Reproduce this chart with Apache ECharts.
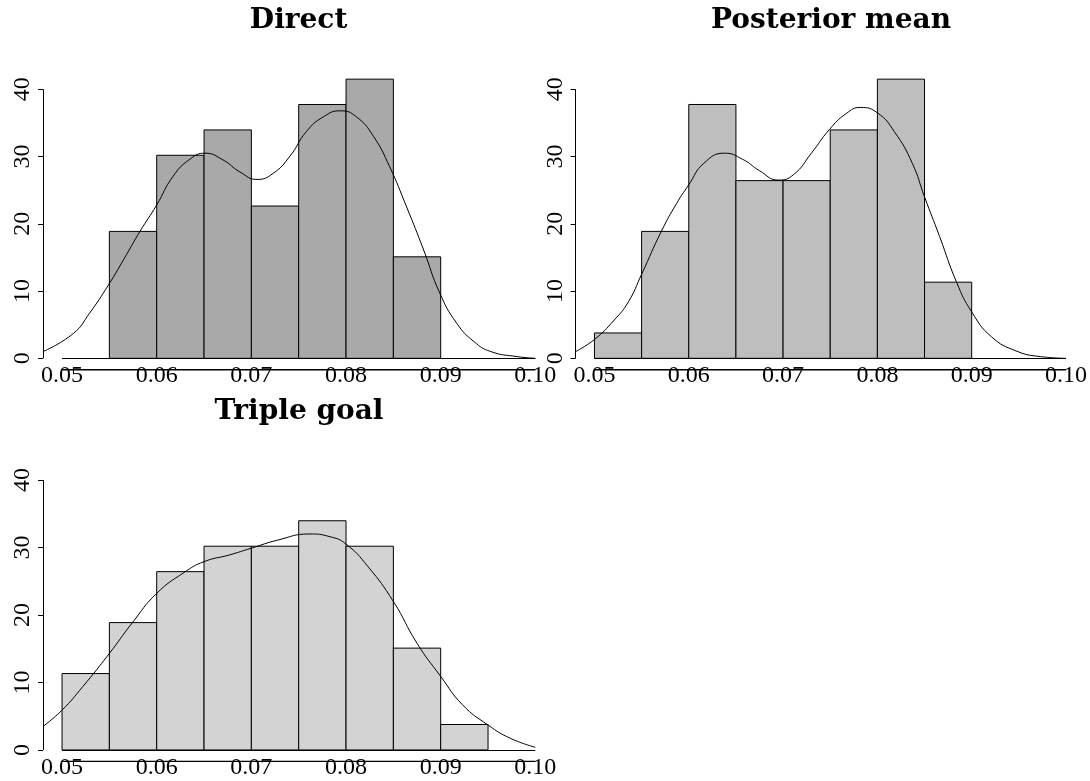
<!DOCTYPE html>
<html>
<head>
<meta charset="utf-8">
<script src="https://cdn.jsdelivr.net/npm/echarts@6.0.0/dist/echarts.min.js"></script>
<style>
html,body{margin:0;padding:0;background:#fff;}
#chart{width:1090px;height:781px;}
</style>
</head>
<body>
<div id="chart"></div>
<script>
// ---- data ----
const panelTitles = ['Direct', 'Posterior mean', 'Triple goal'];
const xTickLabels = [0.05, 0.06, 0.07, 0.08, 0.09, 0.10];
const yTickLabels = [0, 10, 20, 30, 40];
const xRange = [0.048, 0.102];   // plot region (R style 4% extension)
const yRange = [-1.74, 40];
const xAxisLineY = -1.7;         // level of the lower x axis line

const directBreaks = [0.055, 0.060, 0.065, 0.070, 0.075, 0.080, 0.085, 0.090];
const directDensity = [18.87, 30.19, 33.96, 22.64, 37.74, 41.51, 15.09];

const posteriorBreaks = [0.050, 0.055, 0.060, 0.065, 0.070, 0.075, 0.080, 0.085, 0.090];
const posteriorDensity = [3.77, 18.87, 37.74, 26.42, 26.42, 33.96, 41.51, 11.32];

const tripleBreaks = [0.050, 0.055, 0.060, 0.065, 0.070, 0.075, 0.080, 0.085, 0.090, 0.095];
const tripleDensity = [11.32, 18.87, 26.42, 30.19, 30.19, 33.96, 30.19, 15.09, 3.77];

const directCurveX = [0.048, 0.0512, 0.0529, 0.0549, 0.0568, 0.0582, 0.0600, 0.0617, 0.0635, 0.0651, 0.0670, 0.0688, 0.0706, 0.0723, 0.0741, 0.0758, 0.0776, 0.0794, 0.0811, 0.0829, 0.0846, 0.0864, 0.0882, 0.0899, 0.0917, 0.0935, 0.0953, 0.0981, 0.100];
const directCurveY = [1.0, 3.7, 6.7, 10.9, 15.4, 18.8, 22.8, 27.0, 29.6, 30.5, 29.5, 27.7, 26.6, 27.5, 30.1, 33.7, 35.9, 36.8, 35.9, 33.0, 28.5, 22.5, 16.1, 9.7, 5.2, 2.5, 1.0, 0.25, 0.0];

const posteriorCurveX = [0.048, 0.050, 0.0521, 0.0536, 0.055, 0.0571, 0.0587, 0.060, 0.0616, 0.0638, 0.0657, 0.0675, 0.0695, 0.0711, 0.0730, 0.0749, 0.0767, 0.0782, 0.0800, 0.0818, 0.0837, 0.0850, 0.0866, 0.0884, 0.0900, 0.0921, 0.0947, 0.0973, 0.100];
const posteriorCurveY = [1.0, 2.8, 5.7, 8.4, 12.5, 18.9, 23.0, 25.8, 29.0, 30.5, 29.6, 27.9, 26.5, 27.3, 30.5, 34.0, 36.4, 37.3, 36.5, 33.7, 29.0, 24.0, 18.1, 11.3, 6.9, 3.2, 1.1, 0.25, 0.0];

const tripleCurveX = [0.048, 0.050, 0.0522, 0.055, 0.0574, 0.060, 0.0629, 0.065, 0.0677, 0.070, 0.0728, 0.0761, 0.0783, 0.080, 0.0823, 0.085, 0.0875, 0.090, 0.0923, 0.095, 0.0974, 0.100];
const tripleCurveY = [3.5, 5.9, 9.4, 14.3, 18.8, 23.2, 26.3, 27.9, 28.9, 29.9, 31.1, 32.0, 31.6, 30.5, 27.2, 22.0, 15.8, 10.9, 6.7, 3.7, 1.7, 0.4];

// ---- layout / style ----
const panels = [
  {title: panelTitles[0], breaks: directBreaks, dens: directDensity, cx: directCurveX, cy: directCurveY, fill: '#A9A9A9',
   grid: {left: 43.1, top: 89.3, width: 511.2, height: 280.7}, titleX: 298.6, titleTop: 7},
  {title: panelTitles[1], breaks: posteriorBreaks, dens: posteriorDensity, cx: posteriorCurveX, cy: posteriorCurveY, fill: '#BEBEBE',
   grid: {left: 575.6, top: 89.3, width: 511.2, height: 280.7}, titleX: 831, titleTop: 7},
  {title: panelTitles[2], breaks: tripleBreaks, dens: tripleDensity, cx: tripleCurveX, cy: tripleCurveY, fill: '#D3D3D3',
   grid: {left: 43.1, top: 480, width: 511.2, height: 281.7}, titleX: 299, titleTop: 398}
];

const serif = 'Liberation Serif';
const titleFont = 'DejaVu Serif';
const lineSty = {color: '#000', width: 1, type: 'solid'};

const option = {
  backgroundColor: '#fff',
  animation: false,
  title: [], grid: [], xAxis: [], yAxis: [], series: []
};

panels.forEach((p, i) => {
  option.title.push({
    text: p.title, left: p.titleX, top: p.titleTop, textAlign: 'center', padding: 0,
    textStyle: {fontFamily: titleFont, fontWeight: 'bold', fontSize: 28, color: '#000'}
  });
  option.grid.push(Object.assign({containLabel: false, show: false}, p.grid));
  option.xAxis.push({
    type: 'value', gridIndex: i, min: xRange[0], max: xRange[1], position: 'bottom',
    axisLine: {show: false}, axisTick: {show: false}, splitLine: {show: false},
    axisLabel: {show: true, customValues: xTickLabels, margin: -6, color: '#000',
      fontFamily: serif, fontSize: 24, formatter: v => v.toFixed(2)}
  });
  option.yAxis.push({
    type: 'value', gridIndex: i, min: yRange[0], max: yRange[1],
    axisLine: {show: false},
    axisTick: {show: true, customValues: yTickLabels, length: 5, lineStyle: lineSty},
    splitLine: {show: false},
    axisLabel: {show: true, customValues: yTickLabels, rotate: 90, margin: 8, color: '#000',
      fontFamily: serif, fontSize: 24}
  });

  const x0 = xTickLabels[0], x1 = xTickLabels[xTickLabels.length - 1];
  const y0 = yTickLabels[0], y1 = yTickLabels[yTickLabels.length - 1];
  const histData = p.dens.map((d, k) => [p.breaks[k], p.breaks[k + 1], d]);
  const fill = p.fill;
  option.series.push({
    type: 'custom', xAxisIndex: i, yAxisIndex: i, clip: false,
    data: histData,
    renderItem: (params, api) => {
      const a = api.coord([api.value(0), api.value(2)]);
      const b = api.coord([api.value(1), 0]);
      return {type: 'rect', shape: {x: a[0], y: a[1], width: b[0] - a[0], height: b[1] - a[1]},
        style: {fill: fill, stroke: '#000', lineWidth: 1}};
    },
    markLine: {
      silent: true, symbol: ['none', 'none'], label: {show: false}, lineStyle: lineSty,
      emphasis: {disabled: true},
      data: [
        [{coord: [x0, 0]}, {coord: [x1, 0]}],                   // baseline
        [{coord: [xRange[0], y0]}, {coord: [xRange[0], y1]}]    // y axis line
      ]
    }
  });
  // lower x axis line, drawn through the tick labels
  option.series.push({
    type: 'line', xAxisIndex: i, yAxisIndex: i, clip: false, silent: true,
    data: [[x0, xAxisLineY], [x1, xAxisLineY]],
    showSymbol: false, symbol: 'none', z: 5,
    lineStyle: {color: '#000', width: 1.3}
  });
  option.series.push({
    type: 'line', xAxisIndex: i, yAxisIndex: i, clip: false,
    data: p.cx.map((x, k) => [x, p.cy[k]]),
    smooth: 0.5, showSymbol: false, symbol: 'none',
    lineStyle: {color: '#000', width: 1}
  });
});

const chart = echarts.init(document.getElementById('chart'), null, {renderer: 'canvas'});
chart.setOption(option);
</script>
</body>
</html>
